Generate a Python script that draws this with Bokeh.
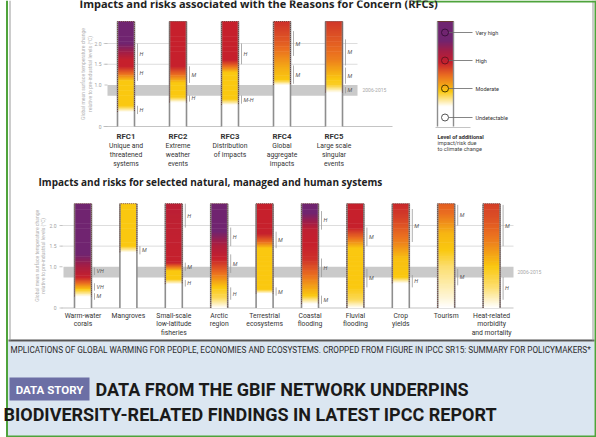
import numpy as np
from bokeh.plotting import figure
from bokeh.models import Range1d
from bokeh.embed import file_html
from bokeh.resources import INLINE
from bokeh.core.properties import value

# ------------------------------------------------------------------ data
RFC_CODES = ["RFC1", "RFC2", "RFC3", "RFC4", "RFC5"]
RFC_NAMES = [["Unique and", "threatened", "systems"],
             ["Extreme", "weather", "events"],
             ["Distribution", "of impacts"],
             ["Global", "aggregate", "impacts"],
             ["Large scale", "singular", "events"]]
# ember stops: (warming °C, risk level 0=undetectable 1=moderate 2=high 3=very high)
RFC_EMBERS = [
    [(0, 0), (0.35, 0), (0.5, 1), (1.1, 1), (1.45, 2), (1.6, 2), (2.0, 3), (2.53, 3)],
    [(0, 0), (0.58, 0), (0.72, 1), (1.05, 1), (1.45, 2), (2.53, 2)],
    [(0, 0), (0.52, 0), (0.66, 1), (1.3, 1), (1.6, 2), (2.53, 2)],
    [(0, 0), (1.0, 0), (1.12, 1), (1.4, 1.15), (2.0, 1.6), (2.53, 1.9)],
    [(0, 0), (0.82, 0), (1.0, 0.9), (1.2, 1.05), (1.6, 1.4), (2.53, 1.85)],
]
RFC_CONF = [
    [(1.5, 2.0, "H"), (1.1, 1.5, "H"), (0.3, 0.5, "H")],
    [(1.05, 1.45, "M"), (0.6, 0.75, "H")],
    [(1.5, 2.0, "H"), (0.55, 0.75, "M-H")],
    [(1.7, 2.3, "M"), (1.03, 1.47, "M")],
    [(1.47, 2.1, "M"), (1.03, 1.42, "M"), (0.8, 0.95, "M")],
]

SYS_NAMES = [["Warm-water", "corals"], ["Mangroves"],
             ["Small-scale", "low-latitude", "fisheries"], ["Arctic", "region"],
             ["Terrestrial", "ecosystems"], ["Coastal", "flooding"],
             ["Fluvial", "flooding"], ["Crop", "yields"], ["Tourism"],
             ["Heat-related", "morbidity", "and mortality"]]
SYS_EMBERS = [
    [(0, 0), (0.28, 0), (0.45, 1), (0.6, 1.5), (0.75, 2), (0.95, 2.3), (1.3, 3), (2.53, 3)],
    [(0, 0), (1.35, 0), (1.5, 1), (2.53, 1)],
    [(0, 0), (0.58, 0), (0.7, 1), (0.9, 1), (1.1, 2), (2.53, 2.15)],
    [(0, 0), (0.25, 0.7), (0.5, 1), (0.85, 1.5), (1.2, 2), (1.5, 2.3), (1.85, 3), (2.53, 3)],
    [(0, 0), (0.35, 0), (0.45, 1), (1.45, 1), (1.6, 1.5), (1.8, 2), (2.53, 2)],
    [(0, 0), (0.1, 0), (0.3, 1), (0.7, 1.4), (1.2, 1.9), (1.9, 2.1), (2.3, 3), (2.53, 3)],
    [(0, 0), (0.2, 0.7), (0.5, 1), (1.45, 1), (1.7, 1.5), (1.95, 2), (2.53, 2)],
    [(0, 0), (0.6, 0), (0.75, 1), (1.2, 1.05), (1.6, 1.4), (2.2, 1.8), (2.53, 1.95)],
    [(0, 0), (0.3, 0.2), (1.0, 0.6), (1.4, 1), (1.8, 1.1), (2.3, 1.5), (2.53, 1.6)],
    [(0, 0), (0.5, 0.6), (1.0, 1), (1.6, 1.4), (2.2, 1.7), (2.53, 1.8)],
]
SYS_CONF = [
    [(0.8, 0.98, "VH"), (0.42, 0.6, "VH"), (0.2, 0.36, "M")],
    [(1.3, 1.5, "M")],
    [(1.95, 2.53, "H"), (0.9, 1.1, "M"), (0.52, 0.68, "H")],
    [(1.5, 1.95, "H"), (0.85, 1.3, "M"), (0.2, 0.5, "H")],
    [(1.45, 1.85, "M"), (0.3, 0.5, "M")],
    [(1.9, 2.35, "H"), (0.75, 1.2, "H"), (0.1, 0.3, "M")],
    [(1.5, 1.95, "M"), (0.5, 0.95, "M")],
    [(1.6, 2.4, "M"), (0.5, 0.8, "H")],
    [(2.0, 2.5, "M"), (0.55, 0.95, "M")],
    [(1.5, 2.5, "M"), (0.2, 0.75, "H")],
]

TICKS = [0, 1.0, 1.5, 2.0]
TICK_LABELS = ["0", "1.0", "1.5", "2.0"]
GRID_TICKS = [1.5, 2.0]
BAND = (0.74, 1.0)
BAND_LABEL = "2006-2015"
EMBER_TOP = 2.53
LEVEL_NAMES = ["Undetectable", "Moderate", "High", "Very high"]
AXIS_TITLE = ["Global mean surface temperature change", "relative to pre-industrial levels (°C)"]
TITLE_TOP = "Impacts and risks associated with the Reasons for Concern (RFCs)"
TITLE_BOT = "Impacts and risks for selected natural, managed and human systems"
CAPTION = ("MPLICATIONS OF GLOBAL WARMING FOR PEOPLE, ECONOMIES AND ECOSYSTEMS. "
           "CROPPED FROM FIGURE IN IPCC SR15: SUMMARY FOR POLICYMAKERS*")
TAG = "DATA STORY"
HEADLINE = ["DATA FROM THE GBIF NETWORK UNDERPINS",
            "BIODIVERSITY-RELATED FINDINGS IN LATEST IPCC REPORT"]

# ------------------------------------------------------------------ styles / layout
LEVEL_STOPS = [0, 1, 1.5, 2, 2.5, 3]
LEVEL_RGB = [(255, 255, 255), (250, 200, 16), (234, 110, 32), (198, 32, 45), (160, 30, 72), (112, 36, 112)]
NARROW = value("Roboto")
SANS = value("Open Sans")
STEP = 0.02
BAR_W = 17.0
GREEN = "#4fa33c"

W, H = 596, 437
TOP = dict(xc=125.5, dx=52.0, yz=126.0, ppc=41.5, grid=(103, 357), band=(107, 357), base=(103, 392),
           tick_x=101, titles=(82, 89), band_lab=362, lab_y=[135.5, 145, 154, 163])
BOT = dict(xc=82.5, dx=45.4, yz=307.5, ppc=41.25, grid=(61, 513), band=(63, 513), base=(61, 513),
           tick_x=56, titles=(36, 42), band_lab=517, lab_y=[315, 323.5, 332])


def level_hex(lv):
    r, g, b = (np.interp(lv, LEVEL_STOPS, [c[k] for c in LEVEL_RGB]) for k in range(3))
    return "#%02x%02x%02x" % (int(round(r)), int(round(g)), int(round(b)))


p = figure(width=W, height=H, output_backend="svg", toolbar_location=None,
           x_range=Range1d(0, W), y_range=Range1d(H, 0),
           x_axis_location=None, y_axis_location=None, min_border=0,
           outline_line_color=None)
p.grid.visible = False
p.background_fill_color = "white"
p.border_fill_color = "white"

p.extra_x_ranges = {
    "topx": Range1d((0 - TOP["xc"]) / TOP["dx"], (W - TOP["xc"]) / TOP["dx"]),
    "botx": Range1d((0 - BOT["xc"]) / BOT["dx"], (W - BOT["xc"]) / BOT["dx"]),
}
p.extra_y_ranges = {
    "topy": Range1d((TOP["yz"] - H) / TOP["ppc"], TOP["yz"] / TOP["ppc"]),
    "boty": Range1d((BOT["yz"] - H) / BOT["ppc"], BOT["yz"] / BOT["ppc"]),
}

# ------------------------------------------------------------------ page decoration
p.quad(left=[7], right=[594], top=[341], bottom=[436], fill_color="#dbe6f1", line_color=None)
p.segment(x0=[8], x1=[594], y0=[340], y1=[340], line_color="#555555", line_width=2)
p.segment(x0=[9.5, 592.5], x1=[9.5, 592.5], y0=[0, 0], y1=[340, 340], line_color="#9a9a9a", line_width=1)
p.segment(x0=[6.5, 595], x1=[6.5, 595], y0=[0, 0], y1=[437, 437], line_color=GREEN, line_width=2)
p.segment(x0=[6, 413], x1=[596, 596], y0=[436, 1], y1=[436, 1], line_color=GREEN, line_width=2)


def draw_panel(g, xr, yr, embers, confs):
    p.quad(left=[g["band"][0]], right=[g["band"][1]], bottom=[BAND[0]], top=[BAND[1]],
           fill_color="#cacaca", line_color=None, y_range_name=yr)
    p.segment(x0=[g["grid"][0]] * len(GRID_TICKS), x1=[g["grid"][1]] * len(GRID_TICKS),
              y0=GRID_TICKS, y1=GRID_TICKS, line_color="#dddddd", line_width=1, y_range_name=yr)
    p.segment(x0=[g["base"][0]], x1=[g["base"][1]], y0=[0], y1=[0],
              line_color="#c4c4c4", line_width=1.2, y_range_name=yr)
    p.text(x=[g["band_lab"]], y=[(BAND[0] + BAND[1]) / 2], text=[BAND_LABEL], y_range_name=yr,
           text_font=NARROW, text_font_size="5px", text_color="#a8a8a8",
           text_align="left", text_baseline="middle")
    p.text(x=[g["tick_x"]] * len(TICKS), y=TICKS, text=TICK_LABELS, y_range_name=yr,
           text_font=NARROW, text_font_size="5px", text_color="#a0a0a0",
           text_align="right", text_baseline="middle")
    p.segment(x0=[g["tick_x"] + 3] * len(TICKS), x1=[g["tick_x"] + 6] * len(TICKS),
              y0=TICKS, y1=TICKS, line_color="#b8b8b8", line_width=0.8, y_range_name=yr)
    p.text(x=list(g["titles"]), y=[EMBER_TOP / 2] * 2, text=AXIS_TITLE, y_range_name=yr,
           angle=np.pi / 2, text_font=NARROW, text_font_size="5px", text_color="#b0b0b0",
           text_align="center", text_baseline="middle")

    n = len(embers)
    half = BAR_W / 2 / g["dx"]
    xs = np.arange(n, dtype=float)
    p.quad(left=xs - half, right=xs + half, bottom=[0] * n, top=[EMBER_TOP] * n,
           fill_color="white", line_color=None, x_range_name=xr, y_range_name=yr)
    L, R, B, T, C = [], [], [], [], []
    starts = []
    for i, stops in enumerate(embers):
        ts = [s[0] for s in stops]
        lv = [s[1] for s in stops]
        st = 0.0
        for t, l in stops:
            if l == 0:
                st = t
            else:
                break
        starts.append(st)
        bb = np.arange(0, EMBER_TOP, STEP)
        levels = np.interp(bb + STEP / 2, ts, lv)
        for b, l in zip(bb, levels):
            if l < 0.01:
                continue
            L.append(i - half); R.append(i + half); B.append(b)
            T.append(min(b + STEP * 1.8, EMBER_TOP)); C.append(level_hex(l))
    p.quad(left=L, right=R, bottom=B, top=T, fill_color=C, line_color=None,
           x_range_name=xr, y_range_name=yr)
    p.segment(x0=list(xs - half) + list(xs + half), x1=list(xs - half) + list(xs + half),
              y0=[0] * (2 * n), y1=[EMBER_TOP] * (2 * n), line_color="#8e8e8e", line_width=1.6,
              x_range_name=xr, y_range_name=yr)
    p.multi_line(xs=[[i - half, i - half, i + half, i + half] for i in range(n)],
                 ys=[[starts[i], EMBER_TOP, EMBER_TOP, starts[i]] for i in range(n)],
                 line_color="#6a3a34", line_width=1, line_dash="1 1", line_alpha=0.85,
                 x_range_name=xr, y_range_name=yr)
    bx, by0, by1, lx, ly, lt = [], [], [], [], [], []
    for i, cl in enumerate(confs):
        for lo, hi, lab in cl:
            bx.append(i + half + 3 / g["dx"]); by0.append(lo); by1.append(hi)
            lx.append(i + half + 5 / g["dx"]); ly.append((lo + hi) / 2); lt.append(lab)
    p.segment(x0=bx, x1=bx, y0=by0, y1=by1, line_color="#9c9c9c", line_width=0.8,
              x_range_name=xr, y_range_name=yr)
    p.text(x=lx, y=ly, text=lt, x_range_name=xr, y_range_name=yr,
           text_font=NARROW, text_font_size="5.5px", text_font_style="italic",
           text_color="#555555", text_align="left", text_baseline="middle")


draw_panel(TOP, "topx", "topy", RFC_EMBERS, RFC_CONF)
draw_panel(BOT, "botx", "boty", SYS_EMBERS, SYS_CONF)

# category labels
p.text(x=list(range(len(RFC_CODES))), y=[TOP["lab_y"][0]] * len(RFC_CODES), text=RFC_CODES,
       x_range_name="topx", text_font=NARROW, text_font_size="7.8px", text_font_style="bold",
       text_color="#333333", text_align="center", text_baseline="middle")
lx, ly, lt = [], [], []
for i, lines in enumerate(RFC_NAMES):
    for k, s in enumerate(lines):
        lx.append(i); ly.append(TOP["lab_y"][k + 1]); lt.append(s)
p.text(x=lx, y=ly, text=lt, x_range_name="topx", text_font=NARROW, text_font_size="6.8px",
       text_color="#333333", text_align="center", text_baseline="middle")
lx, ly, lt = [], [], []
for i, lines in enumerate(SYS_NAMES):
    for k, s in enumerate(lines):
        lx.append(i); ly.append(BOT["lab_y"][k]); lt.append(s)
p.text(x=lx, y=ly, text=lt, x_range_name="botx", text_font=NARROW, text_font_size="6.8px",
       text_color="#333333", text_align="center", text_baseline="middle")

# panel titles (top one is cut by the crop, as in the source)
p.text(x=[79], y=[2.5], text=[TITLE_TOP], text_font=SANS, text_font_size="11px",
       text_font_style="bold", text_color="#222222", text_align="left", text_baseline="middle")
p.text(x=[38], y=[181], text=[TITLE_BOT], text_font=SANS, text_font_size="10px",
       text_font_style="bold", text_color="#222222", text_align="left", text_baseline="middle")

# ------------------------------------------------------------------ legend ember
LEG_X = (437, 453)
LEG_STOPS = [(126, 0), (106, 0), (91, 1), (75, 1.5), (62, 2), (50, 2.5), (40, 3), (21, 3)]
LEG_Y = [117, 88, 60, 32]
ys_ = np.arange(21, 126, 1.0)
lvl = np.interp(ys_ + 0.5, [s[0] for s in LEG_STOPS][::-1], [s[1] for s in LEG_STOPS][::-1])
p.quad(left=[LEG_X[0]] * len(ys_), right=[LEG_X[1]] * len(ys_), top=list(ys_),
       bottom=list(np.minimum(ys_ + 1.8, 126)), fill_color=[level_hex(l) for l in lvl], line_color=None)
p.segment(x0=[LEG_X[0], LEG_X[1]], x1=[LEG_X[0], LEG_X[1]], y0=[21, 21], y1=[126, 126],
          line_color="#8e8e8e", line_width=1.4)
p.segment(x0=[LEG_X[0]], x1=[LEG_X[1]], y0=[21], y1=[21], line_color="#6a3a34", line_width=1)
p.segment(x0=[435], x1=[470], y0=[127], y1=[127], line_color="#c4c4c4", line_width=1.2)
p.segment(x0=[448] * 4, x1=[472] * 4, y0=LEG_Y, y1=LEG_Y, line_color="#666666", line_width=0.8)
p.scatter(x=[444.5] * 4, y=LEG_Y, size=7, marker="circle",
          fill_color=["white", None, None, None],
          line_color=["#555555", "#4a3a00", "#6a1420", "#3d0f3d"], line_width=1)
p.text(x=[475] * 4, y=LEG_Y, text=LEVEL_NAMES, text_font=NARROW, text_font_size="5.5px",
       text_color="#333333", text_align="left", text_baseline="middle")
p.text(x=[437], y=[136], text=["Level of additional"], text_font=NARROW, text_font_size="5.6px",
       text_font_style="bold", text_color="#333333", text_align="left", text_baseline="middle")
p.text(x=[437, 437], y=[142, 148], text=["impact/risk due", "to climate change"], text_font=NARROW,
       text_font_size="5.6px", text_color="#444444", text_align="left", text_baseline="middle")

# ------------------------------------------------------------------ captions
p.text(x=[10], y=[349], text=[CAPTION], text_font=NARROW, text_font_size="8.2px",
       text_color="#2b2b2b", text_align="left", text_baseline="middle")
p.quad(left=[9], right=[89], top=[377], bottom=[400], fill_color="#6c6fa5", line_color=None)
p.text(x=[49], y=[389], text=[TAG], text_font=NARROW, text_font_size="11.5px",
       text_font_style="bold", text_color="white", text_align="center", text_baseline="middle")
p.text(x=[95, 3], y=[389, 414], text=HEADLINE,
       text_font=NARROW, text_font_size="18px", text_font_style="bold", text_color="#1a1a1a",
       text_align="left", text_baseline="middle")

open("out.html", "w").write(file_html(p, INLINE))
